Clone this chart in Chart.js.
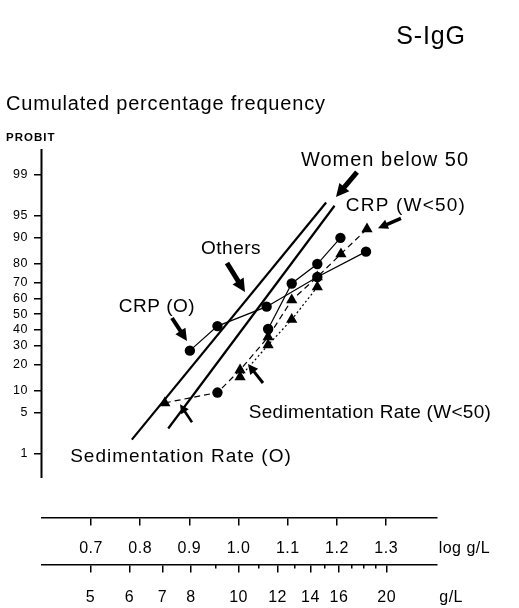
<!DOCTYPE html>
<html>
<head>
<meta charset="utf-8">
<script src="https://cdn.jsdelivr.net/npm/chart.js@4/dist/chart.umd.min.js"></script>
<style>
html,body{margin:0;padding:0;background:#fff;}
#wrap{width:519px;height:608px;}
</style>
</head>
<body>
<div id="wrap"><canvas id="c" width="519" height="608"></canvas></div>
<script>
// ---- tick labels ----
const yTickPercents = [1, 5, 10, 20, 30, 40, 50, 60, 70, 80, 90, 95, 99];
const logTicks = [0.7, 0.8, 0.9, 1.0, 1.1, 1.2, 1.3];
const logTickLabels = ['0.7', '0.8', '0.9', '1.0', '1.1', '1.2', '1.3'];
const gMajorTicks = [5, 6, 7, 8, 10, 12, 14, 16, 20];
const gMinorTicks = [9, 11, 13, 15, 17, 18, 19];

// ---- fitted lines (log g/L, cumulated %) ----
const othersLog = [0.783, 1.178];
const othersPct = [1.8, 96.9];
const womenLog = [0.857, 1.195];
const womenPct = [2.8, 96.5];

// ---- observed series (log g/L, cumulated %) ----
const crpOLog = [0.901, 0.957, 1.057, 1.160, 1.259];
const crpOPct = [27.1, 42.1, 55.0, 73.3, 85.2];
const crpWLog = [1.060, 1.108, 1.160, 1.207];
const crpWPct = [40.2, 69.6, 79.9, 89.9];
const sedOLog = [0.850, 0.957, 1.003, 1.060, 1.108, 1.160, 1.208, 1.261];
const sedOPct = [6.9, 9.5, 17.5, 35.1, 59.3, 73.3, 84.3, 92.3];
const sedWLog = [1.003, 1.060, 1.108, 1.160];
const sedWPct = [14.7, 30.3, 46.4, 67.5];

// ---- probit (inverse normal) ----
function probit(p) {
  const a = [-3.969683028665376e+01, 2.209460984245205e+02, -2.759285104469687e+02, 1.383577518672690e+02, -3.066479806614716e+01, 2.506628277459239e+00];
  const b = [-5.447609879822406e+01, 1.615858368580409e+02, -1.556989798598866e+02, 6.680131188771972e+01, -1.328068155922803e+01];
  const c = [-7.784894002430293e-03, -3.223964580411365e-01, -2.400758277161838e+00, -2.549732539343734e+00, 4.374664141464968e+00, 2.938163982698783e+00];
  const d = [7.784695709041462e-03, 3.224671290700398e-01, 2.445134137142996e+00, 3.754408661907416e+00];
  const pl = 0.02425, ph = 1 - pl;
  let q, r;
  if (p < pl) {
    q = Math.sqrt(-2 * Math.log(p));
    return (((((c[0]*q+c[1])*q+c[2])*q+c[3])*q+c[4])*q+c[5]) / ((((d[0]*q+d[1])*q+d[2])*q+d[3])*q+1);
  }
  if (p <= ph) {
    q = p - 0.5; r = q * q;
    return (((((a[0]*r+a[1])*r+a[2])*r+a[3])*r+a[4])*r+a[5])*q / (((((b[0]*r+b[1])*r+b[2])*r+b[3])*r+b[4])*r+1);
  }
  q = Math.sqrt(-2 * Math.log(1 - p));
  return -(((((c[0]*q+c[1])*q+c[2])*q+c[3])*q+c[4])*q+c[5]) / ((((d[0]*q+d[1])*q+d[2])*q+d[3])*q+1);
}
function pts(xs, ps) { return xs.map((x, i) => ({x: x, y: probit(ps[i] / 100)})); }

// ---- layout constants (scale units) ----
const X_MIN = 0.6004, X_MAX = 1.4033;      // log g/L
const Y_MIN = -4.578, Y_MAX = 3.246;       // probit
const Y_AXIS_TOP = 2.76, Y_AXIS_BOTTOM = -2.74;
const LOG_AXIS_AT = -3.408, G_AXIS_AT = -4.193;
const LOG_UNIT_AT = 1.459, G_UNIT_AT = 1.432;

const FONT = '"Liberation Sans", Arial, Helvetica, sans-serif';

const annotTexts = [
  {t: 'Women below 50', v: 1.2976, z: 2.477, size: 20, sp: 1},
  {t: 'CRP (W<50)', v: 1.3402, z: 1.724, size: 19, sp: 1.2},
  {t: 'Others', v: 0.9846, z: 1.005, size: 19, sp: 0.5},
  {t: 'CRP (O)', v: 0.8341, z: 0.036, size: 19, sp: 0.5},
  {t: 'Sedimentation Rate (W<50)', v: 1.2671, z: -1.736, size: 19, sp: 0.3},
  {t: 'Sedimentation Rate (O)', v: 0.8829, z: -2.471, size: 19, sp: 1}
];
const annotArrows = [
  {v1: 1.2407, z1: 2.376, v2: 1.198, z2: 1.958, sw: 5, hw: 13, hl: 13},
  {v1: 1.330, z1: 1.603, v2: 1.2833, z2: 1.436, sw: 3.5, hw: 10, hl: 10},
  {v1: 0.9764, z1: 0.855, v2: 1.013, z2: 0.370, sw: 5, hw: 13, hl: 13},
  {v1: 0.8646, z1: -0.064, v2: 0.8951, z2: -0.449, sw: 4, hw: 12, hl: 12},
  {v1: 1.0496, z1: -1.151, v2: 1.0191, z2: -0.834, sw: 3, hw: 10, hl: 10},
  {v1: 0.9053, z1: -1.808, v2: 0.8809, z2: -1.507, sw: 2.5, hw: 9, hl: 9}
];

function arrow(ctx, x1, y1, x2, y2, sw, hw, hl) {
  const dx = x2 - x1, dy = y2 - y1, len = Math.hypot(dx, dy);
  const ux = dx / len, uy = dy / len, nx = -uy, ny = ux;
  const bx = x2 - ux * hl, by = y2 - uy * hl;
  ctx.beginPath();
  ctx.moveTo(x1 + nx * sw / 2, y1 + ny * sw / 2);
  ctx.lineTo(bx + nx * sw / 2, by + ny * sw / 2);
  ctx.lineTo(bx + nx * hw / 2, by + ny * hw / 2);
  ctx.lineTo(x2, y2);
  ctx.lineTo(bx - nx * hw / 2, by - ny * hw / 2);
  ctx.lineTo(bx - nx * sw / 2, by - ny * sw / 2);
  ctx.lineTo(x1 - nx * sw / 2, y1 - ny * sw / 2);
  ctx.closePath();
  ctx.fill();
}

const extras = {
  id: 'extras',
  beforeUpdate(chart) { chart.ctx.letterSpacing = '0.5px'; },
  beforeDraw(chart) { chart.ctx.letterSpacing = '0.5px'; },
  afterDraw(chart) {
    const ctx = chart.ctx, xs = chart.scales.x, ys = chart.scales.y, ca = chart.chartArea;
    ctx.save();
    ctx.strokeStyle = '#000';
    ctx.fillStyle = '#000';
    ctx.lineWidth = 2;
    ctx.beginPath();
    ctx.moveTo(ca.left - 0.5, ys.getPixelForValue(Y_AXIS_TOP));
    ctx.lineTo(ca.left - 0.5, ys.getPixelForValue(Y_AXIS_BOTTOM));
    ctx.stroke();

    ctx.textBaseline = 'alphabetic';
    ctx.textAlign = 'center';
    annotTexts.forEach(a => {
      ctx.font = a.size + 'px ' + FONT;
      ctx.letterSpacing = a.sp + 'px';
      ctx.fillText(a.t, xs.getPixelForValue(a.v), ys.getPixelForValue(a.z));
    });
    annotArrows.forEach(a => arrow(ctx, xs.getPixelForValue(a.v1), ys.getPixelForValue(a.z1),
      xs.getPixelForValue(a.v2), ys.getPixelForValue(a.z2), a.sw, a.hw, a.hl));

    // headings
    ctx.textAlign = 'center';
    ctx.font = '25px ' + FONT;
    ctx.letterSpacing = '0.8px';
    ctx.fillText('S-IgG', 431, 44);
    ctx.textAlign = 'left';
    ctx.font = '20px ' + FONT;
    ctx.letterSpacing = '0.8px';
    ctx.fillText('Cumulated percentage frequency', 6, 110);
    ctx.font = 'bold 11.5px ' + FONT;
    ctx.letterSpacing = '1px';
    ctx.fillText('PROBIT', 6, 141);
    ctx.restore();
  }
};

const black = '#000';
const clear = 'rgba(0,0,0,0)';
const tickFont = {family: FONT, size: 16};

new Chart(document.getElementById('c'), {
  type: 'scatter',
  data: {
    datasets: [
      {label: 'Others', data: pts(othersLog, othersPct), showLine: true, borderColor: black, borderWidth: 2.2, pointRadius: 0},
      {label: 'Women below 50', data: pts(womenLog, womenPct), showLine: true, borderColor: black, borderWidth: 2.2, pointRadius: 0},
      {label: 'CRP (O)', data: pts(crpOLog, crpOPct), showLine: true, borderColor: black, borderWidth: 1.2,
        pointStyle: 'circle', pointRadius: 5.2, pointBackgroundColor: black, pointBorderWidth: 0},
      {label: 'CRP (W<50)', data: pts(crpWLog, crpWPct), showLine: true, borderColor: black, borderWidth: 1.2,
        pointStyle: 'circle', pointRadius: 5.2, pointBackgroundColor: black, pointBorderWidth: 0},
      {label: 'Sedimentation Rate (O)', data: pts(sedOLog, sedOPct), showLine: true, borderColor: black, borderWidth: 1.2,
        borderDash: [6, 4], pointStyle: ['triangle', 'circle', 'triangle', 'triangle', 'triangle', 'triangle', 'triangle', 'triangle'],
        pointRadius: [6.5, 5.2, 6.5, 6.5, 6.5, 6.5, 6.5, 6.5], pointBackgroundColor: black, pointBorderWidth: 0},
      {label: 'Sedimentation Rate (W<50)', data: pts(sedWLog, sedWPct), showLine: true, borderColor: black, borderWidth: 1.2,
        borderDash: [2, 2.5], pointStyle: 'triangle', pointRadius: 6.5, pointBackgroundColor: black, pointBorderWidth: 0}
    ]
  },
  options: {
    responsive: false,
    animation: false,
    events: [],
    layout: {padding: {top: 120, bottom: 20, left: 0, right: 82}},
    plugins: {legend: {display: false}, tooltip: {enabled: false}},
    scales: {
      x: {type: 'linear', min: X_MIN, max: X_MAX, display: false},
      y: {
        type: 'linear', min: Y_MIN, max: Y_MAX, position: 'left',
        afterBuildTicks: s => { s.ticks = yTickPercents.map(p => ({value: probit(p / 100)})); },
        afterFit: s => { s.width = 42; },
        grid: {drawOnChartArea: false, drawTicks: true, tickLength: 8, color: black, lineWidth: 1.5},
        border: {display: false},
        ticks: {autoSkip: false, padding: 6, color: black, font: {family: FONT, size: 12.5},
          callback: (v, i) => String(yTickPercents[i])}
      },
      xLog: {
        type: 'linear', axis: 'x', position: {y: LOG_AXIS_AT}, min: X_MIN, max: X_MAX,
        afterBuildTicks: s => { s.ticks = logTicks.map(v => ({value: v})).concat([{value: LOG_UNIT_AT}]); },
        grid: {drawOnChartArea: false, drawTicks: true, tickLength: 7, lineWidth: 1.5,
          color: c => (c.index < logTicks.length ? black : clear)},
        border: {display: true, color: black, width: 1.5},
        ticks: {autoSkip: false, maxRotation: 0, minRotation: 0, padding: 14, color: black, font: tickFont,
          callback: (v, i) => i < logTickLabels.length ? logTickLabels[i] : 'log g/L'}
      },
      xG: {
        type: 'linear', axis: 'x', position: {y: G_AXIS_AT}, min: X_MIN, max: X_MAX,
        afterBuildTicks: s => { s.ticks = gMajorTicks.map(g => ({value: Math.log10(g)})).concat([{value: G_UNIT_AT}]); },
        grid: {drawOnChartArea: false, drawTicks: true, tickLength: 7, lineWidth: 1.5,
          color: c => (c.index < gMajorTicks.length ? black : clear)},
        border: {display: true, color: black, width: 1.5},
        ticks: {autoSkip: false, maxRotation: 0, minRotation: 0, padding: 16, color: black, font: tickFont,
          callback: (v, i) => i < gMajorTicks.length ? String(gMajorTicks[i]) : 'g/L'}
      },
      xGm: {
        type: 'linear', axis: 'x', position: {y: G_AXIS_AT}, min: X_MIN, max: X_MAX,
        afterBuildTicks: s => { s.ticks = gMinorTicks.map(g => ({value: Math.log10(g)})); },
        grid: {drawOnChartArea: false, drawTicks: true, tickLength: 3.5, color: black, lineWidth: 1.5},
        border: {display: false},
        ticks: {display: false}
      }
    }
  },
  plugins: [extras]
});
</script>
</body>
</html>
